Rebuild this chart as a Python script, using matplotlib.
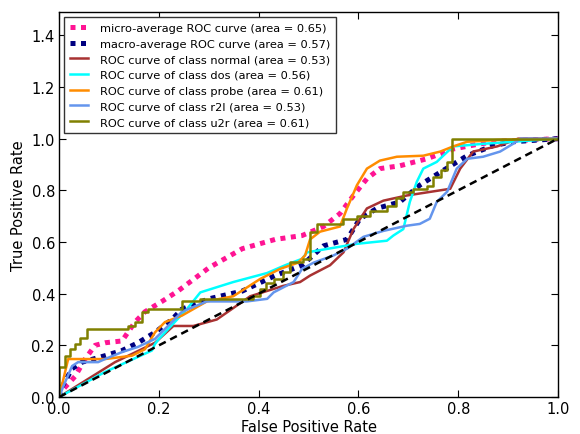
import matplotlib
matplotlib.use("Agg")
import matplotlib.pyplot as plt

labels = [
    "micro-average ROC curve (area = 0.65)",
    "macro-average ROC curve (area = 0.57)",
    "ROC curve of class normal (area = 0.53)",
    "ROC curve of class dos (area = 0.56)",
    "ROC curve of class probe (area = 0.61)",
    "ROC curve of class r2l (area = 0.53)",
    "ROC curve of class u2r (area = 0.61)",
]

micro_fpr = [0.0, 0.008, 0.032, 0.052, 0.072, 0.092, 0.126, 0.152, 0.172, 0.206, 0.238, 0.3, 0.367, 0.433, 0.487, 0.53, 0.563, 0.59, 0.617, 0.643, 0.683, 0.737, 0.79, 0.844, 0.884, 1.0]
micro_tpr = [0.0, 0.03, 0.08, 0.147, 0.2, 0.21, 0.217, 0.29, 0.33, 0.37, 0.41, 0.5, 0.574, 0.61, 0.625, 0.66, 0.71, 0.78, 0.845, 0.884, 0.895, 0.922, 0.96, 0.98, 0.99, 1.0]

macro_fpr = [0.0, 0.006, 0.026, 0.046, 0.092, 0.126, 0.158, 0.192, 0.226, 0.246, 0.3, 0.367, 0.433, 0.487, 0.53, 0.577, 0.603, 0.637, 0.683, 0.723, 0.764, 0.818, 0.87, 0.91, 1.0]
macro_tpr = [0.0, 0.04, 0.11, 0.135, 0.16, 0.18, 0.21, 0.25, 0.30, 0.34, 0.38, 0.41, 0.47, 0.51, 0.585, 0.61, 0.69, 0.73, 0.755, 0.82, 0.87, 0.934, 0.973, 0.988, 1.0]

normal_fpr = [0.0, 0.112, 0.192, 0.229, 0.269, 0.316, 0.383, 0.449, 0.483, 0.503, 0.543, 0.57, 0.59, 0.617, 0.65, 0.697, 0.784, 0.804, 0.83, 0.878, 0.904, 0.92, 1.0]
normal_tpr = [0.0, 0.135, 0.21, 0.275, 0.275, 0.30, 0.39, 0.43, 0.445, 0.47, 0.51, 0.56, 0.65, 0.73, 0.76, 0.78, 0.806, 0.884, 0.95, 0.97, 0.988, 1.0, 1.0]

dos_fpr = [0.0, 0.092, 0.186, 0.192, 0.2, 0.256, 0.283, 0.349, 0.417, 0.453, 0.487, 0.497, 0.597, 0.657, 0.67, 0.69, 0.703, 0.717, 0.73, 0.757, 0.77, 0.79, 0.85, 0.91, 1.0]
dos_tpr = [0.0, 0.097, 0.18, 0.205, 0.225, 0.34, 0.405, 0.445, 0.48, 0.51, 0.535, 0.56, 0.593, 0.605, 0.625, 0.65, 0.755, 0.833, 0.884, 0.91, 0.934, 0.97, 0.98, 0.988, 1.0]

probe_fpr = [0.0, 0.018, 0.092, 0.146, 0.172, 0.192, 0.212, 0.246, 0.296, 0.349, 0.403, 0.443, 0.479, 0.493, 0.503, 0.523, 0.563, 0.577, 0.597, 0.617, 0.643, 0.677, 0.73, 0.764, 0.79, 0.818, 0.88, 1.0]
probe_tpr = [0.0, 0.147, 0.147, 0.16, 0.185, 0.25, 0.29, 0.315, 0.37, 0.39, 0.457, 0.496, 0.52, 0.548, 0.61, 0.64, 0.66, 0.73, 0.82, 0.884, 0.915, 0.93, 0.934, 0.95, 0.97, 0.988, 0.995, 1.0]

r2l_fpr = [0.0, 0.008, 0.026, 0.038, 0.078, 0.092, 0.126, 0.158, 0.192, 0.226, 0.246, 0.296, 0.376, 0.417, 0.43, 0.47, 0.487, 0.51, 0.55, 0.577, 0.61, 0.65, 0.697, 0.723, 0.743, 0.757, 0.778, 0.797, 0.818, 0.85, 0.884, 0.91, 0.925, 1.0]
r2l_tpr = [0.0, 0.04, 0.12, 0.135, 0.135, 0.147, 0.174, 0.194, 0.225, 0.29, 0.33, 0.37, 0.37, 0.38, 0.405, 0.445, 0.496, 0.52, 0.548, 0.574, 0.62, 0.643, 0.663, 0.67, 0.69, 0.755, 0.795, 0.884, 0.922, 0.93, 0.95, 0.98, 1.0, 1.0]

u2r_fpr = [0.0, 0.0, 0.012, 0.012, 0.022, 0.022, 0.032, 0.032, 0.042, 0.042, 0.056, 0.056, 0.138, 0.138, 0.152, 0.152, 0.166, 0.166, 0.178, 0.178, 0.246, 0.246, 0.283, 0.283, 0.389, 0.389, 0.403, 0.403, 0.415, 0.415, 0.43, 0.43, 0.449, 0.449, 0.463, 0.463, 0.489, 0.489, 0.503, 0.503, 0.517, 0.517, 0.57, 0.57, 0.597, 0.597, 0.623, 0.623, 0.657, 0.657, 0.675, 0.675, 0.69, 0.69, 0.71, 0.71, 0.737, 0.737, 0.75, 0.75, 0.765, 0.765, 0.778, 0.778, 0.787, 0.787, 1.0]
u2r_tpr = [0.0, 0.116, 0.116, 0.16, 0.16, 0.186, 0.186, 0.205, 0.205, 0.23, 0.23, 0.264, 0.264, 0.275, 0.275, 0.29, 0.29, 0.33, 0.33, 0.34, 0.34, 0.37, 0.37, 0.38, 0.38, 0.39, 0.39, 0.42, 0.42, 0.44, 0.44, 0.457, 0.457, 0.485, 0.485, 0.523, 0.523, 0.535, 0.535, 0.64, 0.64, 0.67, 0.67, 0.69, 0.69, 0.70, 0.70, 0.72, 0.72, 0.74, 0.74, 0.77, 0.77, 0.795, 0.795, 0.806, 0.806, 0.818, 0.818, 0.85, 0.85, 0.88, 0.88, 0.91, 0.91, 1.0, 1.0]

plt.rcParams.update({
    "font.family": "DejaVu Sans",
    "xtick.direction": "in",
    "ytick.direction": "in",
    "xtick.top": True,
    "ytick.right": True,
    "xtick.major.size": 5,
    "ytick.major.size": 5,
    "lines.scale_dashes": True,
})

fig = plt.figure(figsize=(5.8, 4.35), dpi=100)
ax = fig.add_axes([0.102, 0.085, 0.860, 0.885])

dot = (0, (1, 1.1))
ax.plot(micro_fpr, micro_tpr, color="deeppink", linestyle=dot, linewidth=3.6, label=labels[0])
ax.plot(macro_fpr, macro_tpr, color="navy", linestyle=dot, linewidth=3.6, label=labels[1])
ax.plot(normal_fpr, normal_tpr, color="#a83232", linewidth=1.8, label=labels[2])
ax.plot(dos_fpr, dos_tpr, color="aqua", linewidth=1.8, label=labels[3])
ax.plot(probe_fpr, probe_tpr, color="darkorange", linewidth=1.8, label=labels[4])
ax.plot(r2l_fpr, r2l_tpr, color="cornflowerblue", linewidth=1.8, label=labels[5])
ax.plot(u2r_fpr, u2r_tpr, color="olive", linewidth=1.8, label=labels[6])
ax.plot([0, 1], [0, 1], color="black", linestyle=(0, (3, 2)), linewidth=1.8)

ax.set_xlim(0.0, 1.0)
ax.set_ylim(0.0, 1.49)
ax.set_xticks([0.0, 0.2, 0.4, 0.6, 0.8, 1.0])
ax.set_yticks([0.0, 0.2, 0.4, 0.6, 0.8, 1.0, 1.2, 1.4])
ax.tick_params(labelsize=10.5, pad=3)
ax.set_xlabel("False Positive Rate", fontsize=10.5, labelpad=2)
ax.set_ylabel("True Positive Rate", fontsize=10.5, labelpad=4)
for s in ax.spines.values():
    s.set_linewidth(1.0)

leg = ax.legend(loc="upper left", fontsize=8.2, fancybox=False, framealpha=1,
                edgecolor="#333333", handlelength=1.6, handletextpad=1.0,
                borderaxespad=0.45, labelspacing=0.5, borderpad=0.5)
leg.get_frame().set_linewidth(1.0)

fig.savefig("out.png", dpi=100)
